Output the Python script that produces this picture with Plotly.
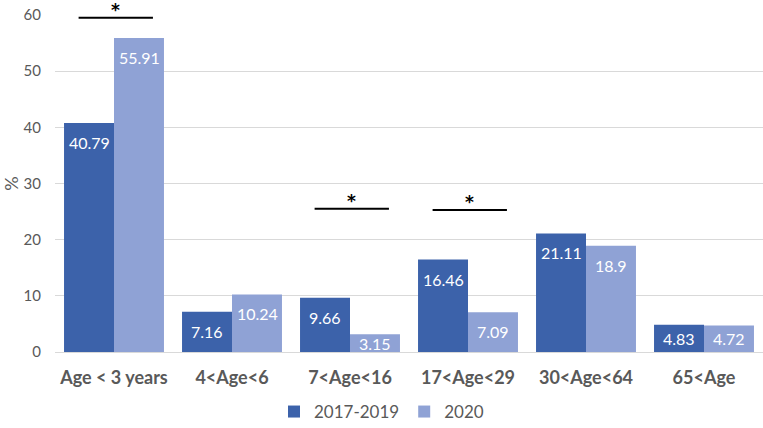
import plotly.graph_objects as go

categories = ["Age < 3 years", "4<Age<6", "7<Age<16", "17<Age<29", "30<Age<64", "65<Age"]
series_names = ["2017-2019", "2020"]
values_2017_2019 = [40.79, 7.16, 9.66, 16.46, 21.11, 4.83]
values_2020 = [55.91, 10.24, 3.15, 7.09, 18.9, 4.72]
sig_categories = ["Age < 3 years", "7<Age<16", "17<Age<29"]
sig_levels = [59.5, 25.5, 25.3]
y_ticks = [0, 10, 20, 30, 40, 50, 60]

colors = ["#3C62AA", "#8FA2D5"]
FONT = "Lato, 'Open Sans', sans-serif"

fig = go.Figure()
for name, vals, col in zip(series_names, [values_2017_2019, values_2020], colors):
    fig.add_trace(go.Bar(name=name, x=categories, y=vals, marker_color=col,
                         marker_line_width=0, hoverinfo="x+y"))

annotations = []
for k, vals in enumerate([values_2017_2019, values_2020]):
    shift = -25 if k == 0 else 25
    for c, v in zip(categories, vals):
        if v < 6:
            annotations.append(dict(x=c, y=v / 2, xshift=shift, text=str(v), showarrow=False,
                                    yanchor="middle", font=dict(family=FONT, size=16, color="white")))
        else:
            annotations.append(dict(x=c, y=v, xshift=shift, yshift=-8, text=str(v), showarrow=False,
                                    yanchor="top", font=dict(family=FONT, size=16, color="white")))

shapes = []
for c, lvl in zip(sig_categories, sig_levels):
    i = categories.index(c)
    shapes.append(dict(type="line", xref="x", yref="y", x0=i - 0.3, x1=i + 0.33, y0=lvl, y1=lvl,
                       line=dict(color="black", width=2)))
    annotations.append(dict(x=i + 0.015, y=lvl, xref="x", yref="y", text="<b>*</b>", showarrow=False,
                            yanchor="middle", yshift=8,
                            font=dict(family="DejaVu Sans", size=17, color="black")))

fig.update_layout(
    width=763, height=428,
    margin=dict(l=55, r=0, t=15, b=76, autoexpand=False),
    plot_bgcolor="white", paper_bgcolor="white",
    barmode="group", bargap=0.153, bargroupgap=0,
    font=dict(family=FONT, color="#595959"),
    xaxis=dict(tickfont=dict(family=FONT, size=18, color="#595959", weight="bold"), showgrid=False,
               showline=True, linecolor="#d9d9d9", linewidth=1, ticks="", automargin=False,
               ticklabelstandoff=9),
    yaxis=dict(range=[0, 60], tickvals=y_ticks, gridcolor="#d9d9d9", gridwidth=1, automargin=False,
               tickfont=dict(family=FONT, size=15, color="#595959"), zeroline=False,
               ticklabelstandoff=13,
               title=dict(text="%", font=dict(family=FONT, size=18, color="#595959"), standoff=4)),
    legend=dict(orientation="h", xref="container", x=0.5, xanchor="center", y=-0.178, yanchor="middle",
                font=dict(family=FONT, size=17, color="#595959"), itemwidth=30,
                traceorder="normal"),
    shapes=shapes, annotations=annotations,
)

fig.write_html("out.html", config={"displayModeBar": False},
               post_script="document.body.style.margin='0px';")
